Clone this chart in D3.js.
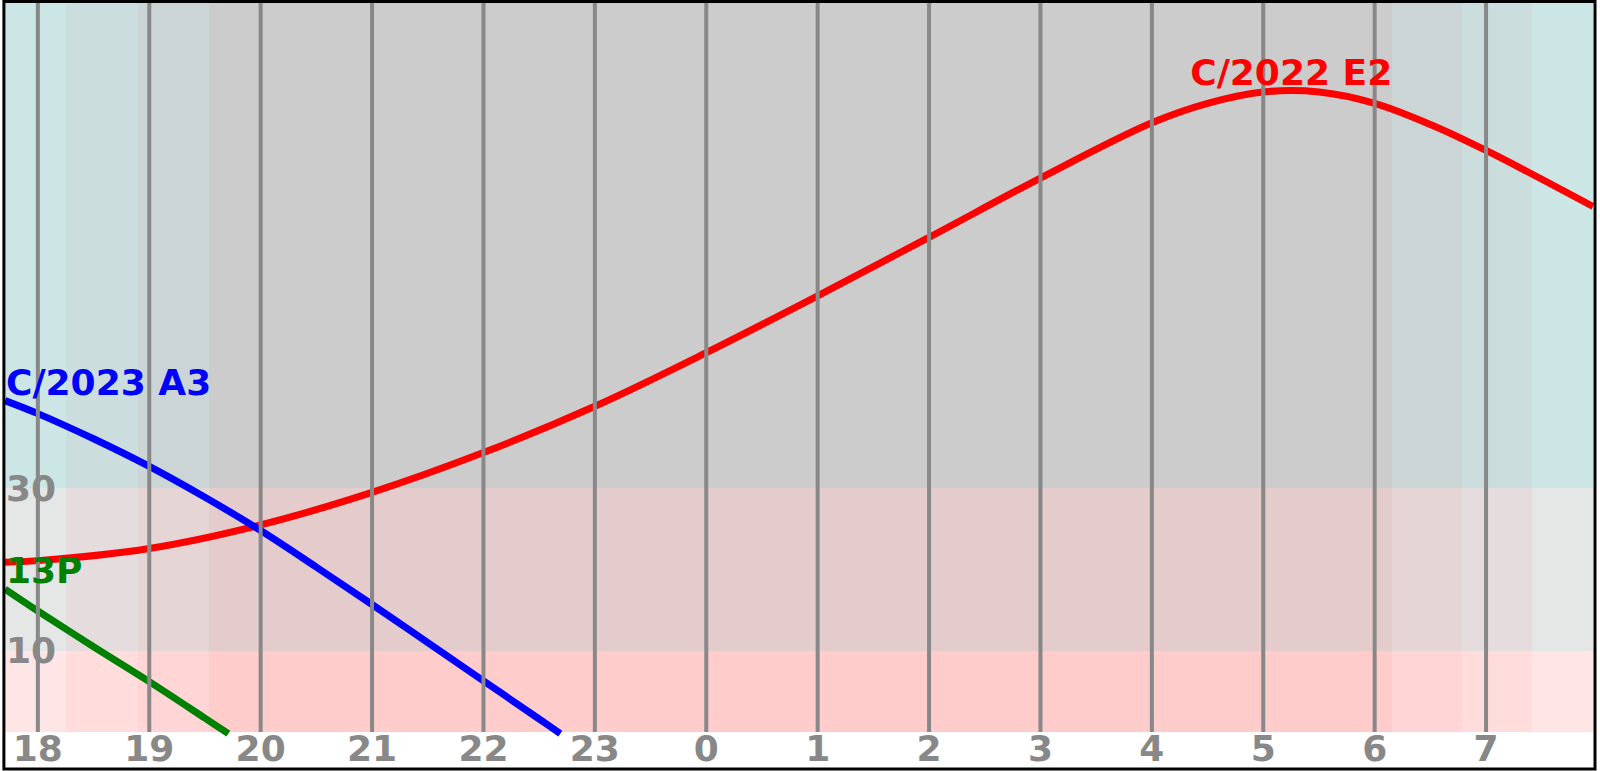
<!DOCTYPE html>
<html>
<head>
<meta charset="utf-8">
<script src="https://cdn.jsdelivr.net/npm/d3@7"></script>
<style>
  html, body { margin: 0; padding: 0; background: #ffffff; }
  svg { display: block; }
  text { font-family: "DejaVu Sans", sans-serif; font-weight: bold; }
</style>
</head>
<body>
<svg id="chart" width="1600" height="771"></svg>
<script>
// ---------- DATA ----------
// hours on a continuous night axis (after midnight = 24 + h)
const hourDomain = [17.705, 31.96];
const tickHours = [18, 19, 20, 21, 22, 23, 24, 25, 26, 27, 28, 29, 30, 31];
const tickLabels = ["18", "19", "20", "21", "22", "23", "0", "1", "2", "3", "4", "5", "6", "7"];

// twilight boundaries (hours) and the phase of each resulting interval
const phaseEdges = [18.252, 18.901, 19.538, 30.153, 30.781, 31.409];
const phaseNames = ["day", "civil", "nautical", "night", "nautical", "civil", "day"];

// altitude bands (degrees) and their labels
const altBandEdges = [0, 10, 30, 90];
const altLabels = [10, 30];

// comet altitude curves
const e2Name = "C/2022 E2";
const e2Hours = [17.705, 18, 19, 20, 21, 22, 23, 24, 25, 26, 27, 28, 28.5, 29, 29.5, 30, 30.5, 31, 31.96];
const e2Alt   = [20.9, 21.1, 22.6, 25.5, 29.5, 34.4, 40.1, 46.7, 53.7, 60.9, 68.2, 75.0, 77.4, 78.8, 78.8, 77.4, 74.8, 71.6, 64.7];

const a3Name = "C/2023 A3";
const a3Hours = [17.705, 18, 18.5, 19, 19.5, 20, 20.5, 21, 21.5, 22, 22.5, 22.69];
const a3Alt   = [40.8, 39.2, 36.1, 32.7, 28.9, 24.8, 20.3, 15.7, 11.0, 6.3, 1.6, -0.2];

const p13Name = "13P";
const p13Hours = [17.705, 18, 18.5, 19, 19.5, 19.71];
const p13Alt   = [17.6, 14.9, 10.5, 6.2, 1.7, -0.2];

// ---------- STYLE ----------
const bandRed = [255, 229, 204];                 // per altitude band (low -> high)
const phaseGreen = { day: 230, civil: 221, nautical: 213, night: 204 };
const gridColor = "#888888";
const seriesColors = { [e2Name]: "#ff0000", [a3Name]: "#0000ff", [p13Name]: "#008000" };

// ---------- CHART ----------
const svg = d3.select("#chart");
const plot = { left: 5, right: 1593, top: 1, bottom: 732 };

const x = d3.scaleLinear().domain(hourDomain).range([plot.left, plot.right]);
const y = d3.scaleLinear().domain([0, 90]).range([plot.bottom, plot.top]);

// white background
svg.append("rect").attr("x", 0).attr("y", 0).attr("width", 1600).attr("height", 771).attr("fill", "#fff");

// background cells: twilight phases x altitude bands
const phaseBounds = [hourDomain[0], ...phaseEdges, hourDomain[1]];
const cells = [];
phaseNames.forEach((p, i) => {
  for (let b = 0; b < altBandEdges.length - 1; b++) {
    cells.push({ h0: phaseBounds[i], h1: phaseBounds[i + 1], a0: altBandEdges[b], a1: altBandEdges[b + 1], band: b, phase: p });
  }
});
svg.append("g").selectAll("rect").data(cells).join("rect")
  .attr("x", d => x(d.h0))
  .attr("width", d => x(d.h1) - x(d.h0))
  .attr("y", d => y(d.a1))
  .attr("height", d => y(d.a0) - y(d.a1))
  .attr("fill", d => d3.rgb(bandRed[d.band], phaseGreen[d.phase], phaseGreen[d.phase]))
  .attr("shape-rendering", "crispEdges");

// comet curves
const series = [
  { name: e2Name, pts: e2Hours.map((h, i) => [h, e2Alt[i]]) },
  { name: a3Name, pts: a3Hours.map((h, i) => [h, a3Alt[i]]) },
  { name: p13Name, pts: p13Hours.map((h, i) => [h, p13Alt[i]]) }
];
const line = d3.line().x(d => x(d[0])).y(d => y(d[1])).curve(d3.curveCatmullRom.alpha(0.5));
const paths = svg.append("g").selectAll("path").data(series).join("path")
  .attr("d", d => line(d.pts))
  .attr("fill", "none")
  .attr("stroke", d => seriesColors[d.name])
  .attr("stroke-width", 7)
  .attr("stroke-linecap", "butt")
  .attr("stroke-linejoin", "round");

// hour grid lines (drawn over curves)
svg.append("g").selectAll("line").data(tickHours).join("line")
  .attr("x1", d => x(d)).attr("x2", d => x(d))
  .attr("y1", plot.top).attr("y2", plot.bottom)
  .attr("stroke", gridColor).attr("stroke-width", 4);

// hour labels
svg.append("g").selectAll("text").data(tickHours).join("text")
  .attr("x", d => x(d)).attr("y", 761)
  .attr("text-anchor", "middle")
  .attr("font-size", 36)
  .attr("fill", gridColor)
  .text((d, i) => tickLabels[i]);

// altitude labels
svg.append("g").selectAll("text").data(altLabels).join("text")
  .attr("x", plot.left + 1).attr("y", d => y(d) + 12.5)
  .attr("text-anchor", "start")
  .attr("font-size", 36)
  .attr("fill", gridColor)
  .text(d => d);

// series labels at each curve's highest point (found along the drawn path)
const labelG = svg.append("g");
paths.each(function (s) {
  const len = this.getTotalLength();
  let best = this.getPointAtLength(0);
  for (let l = 0; l <= len; l += 1) {
    const p = this.getPointAtLength(l);
    if (p.y < best.y) best = p;
  }
  const t = labelG.append("text")
    .attr("font-size", 36)
    .attr("fill", seriesColors[s.name])
    .attr("y", best.y - 6)
    .text(s.name);
  const w = t.node().getComputedTextLength();
  const cx = best.x;
  if (cx - w / 2 < plot.left) { t.attr("x", plot.left + 1).attr("text-anchor", "start"); }
  else if (cx + w / 2 > plot.right) { t.attr("x", plot.right - 1).attr("text-anchor", "end"); }
  else { t.attr("x", cx).attr("text-anchor", "middle"); }
});

// frame
svg.append("rect")
  .attr("x", 3.9).attr("y", 1.5).attr("width", 1591.1).attr("height", 767.5)
  .attr("fill", "none").attr("stroke", "#000").attr("stroke-width", 3);
</script>
</body>
</html>
